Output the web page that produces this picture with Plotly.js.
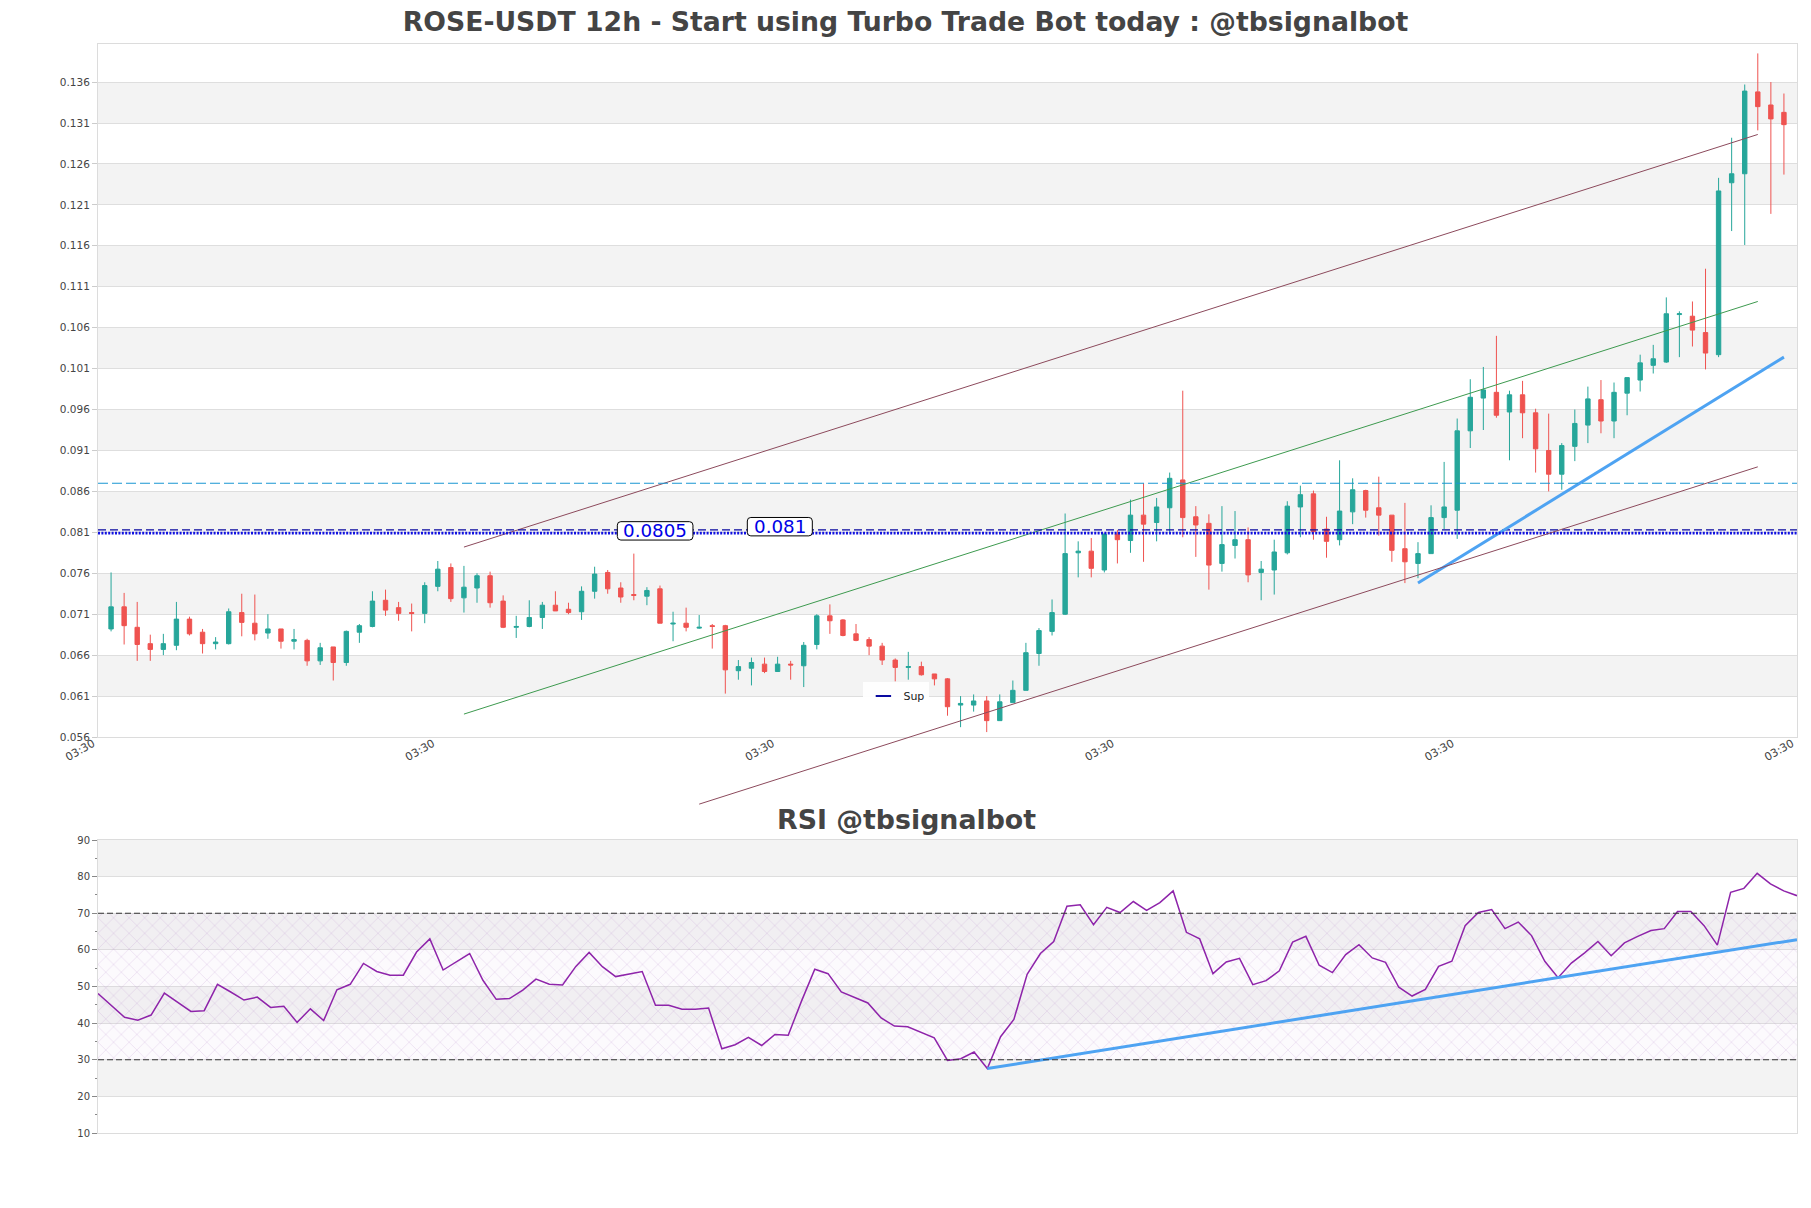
<!DOCTYPE html>
<html><head><meta charset="utf-8">
<script src="https://cdn.plot.ly/plotly-3.0.1.min.js"></script>
<style>html,body{margin:0;padding:0;background:#fff}#chart{width:1811px;height:1208px}</style>
</head><body><div id="chart"></div>
<script>
// ---------- DATA ----------
const open = [.0692,.0719,.0694,.0674,.0667,.0672,.0704,.0688,.0674,.0674,
.0712,.0699,.0687,.0692,.0677,.0678,.0653,.0670,.0651,.0688,
.0695,.0727,.0718,.0712,.0711,.0744,.0767,.0730,.0742,.0757,
.0726,.0694,.0695,.0706,.0721,.0716,.0713,.0738,.0761,.0742,
.0734,.0732,.0741,.0698,.0699,.0693,.0696,.0696,.0641,.0644,
.0649,.0640,.0649,.0647,.0673,.0708,.0703,.0686,.0679,.0671,
.0654,.0645,.0646,.0637,.0631,.0599,.0599,.0604,.0580,.0602,
.0617,.0662,.0689,.0710,.0785,.0787,.0764,.0808,.0800,.0831,
.0822,.0840,.0874,.0829,.0821,.0772,.0794,.0801,.0761,.0764,
.0785,.0841,.0857,.0814,.0801,.0835,.0861,.0840,.0831,.0790,
.0772,.0784,.0828,.0837,.0934,.0974,.0981,.0957,.0978,.0956,
.0910,.0881,.0915,.0941,.0972,.0946,.0980,.0996,.1014,.1018,
.1076,.1074,.1054,.1027,.1237,.1248,.1348,.1332,.1323];
const high = [.0761,.0736,.0725,.0685,.0686,.0725,.0707,.0692,.0682,.0717,
.0735,.0734,.0710,.0692,.0692,.0680,.0675,.0670,.0690,.0698,
.0738,.0740,.0725,.0723,.0749,.0775,.0772,.0769,.0760,.0762,
.0733,.0708,.0727,.0725,.0738,.0724,.0744,.0768,.0764,.0749,
.0784,.0743,.0745,.0713,.0718,.0709,.0698,.0697,.0654,.0657,
.0657,.0658,.0653,.0676,.0710,.0722,.0704,.0698,.0682,.0675,
.0656,.0664,.0652,.0637,.0632,.0610,.0612,.0610,.0612,.0629,
.0675,.0693,.0728,.0833,.0799,.0803,.0809,.0813,.0850,.0870,
.0852,.0883,.0983,.0842,.0832,.0842,.0836,.0816,.0775,.0801,
.0848,.0867,.0861,.0829,.0898,.0876,.0862,.0878,.0831,.0846,
.0798,.0843,.0896,.0949,.0997,.1012,.1050,.0983,.0995,.0961,
.0955,.0919,.0960,.0988,.0996,.0993,.0999,.1027,.1039,.1097,
.1080,.1092,.1132,.1243,.1292,.1357,.1395,.1360,.1346];
const low = [.0689,.0673,.0653,.0653,.0660,.0666,.0684,.0662,.0667,.0673,
.0683,.0678,.0680,.0668,.0667,.0647,.0648,.0629,.0647,.0675,
.0694,.0708,.0702,.0689,.0699,.0738,.0725,.0712,.0724,.0718,
.0693,.0681,.0694,.0692,.0714,.0710,.0703,.0729,.0735,.0724,
.0727,.0721,.0699,.0677,.0689,.0692,.0668,.0613,.0630,.0623,
.0638,.0640,.0630,.0621,.0667,.0686,.0683,.0677,.0660,.0648,
.0628,.0630,.0635,.0623,.0586,.0572,.0591,.0566,.0580,.0602,
.0617,.0647,.0684,.0709,.0755,.0755,.0761,.0772,.0785,.0774,
.0799,.0809,.0804,.0780,.0740,.0762,.0778,.0749,.0727,.0734,
.0783,.0804,.0801,.0779,.0794,.0820,.0828,.0806,.0774,.0748,
.0754,.0784,.0814,.0802,.0913,.0935,.0950,.0898,.0925,.0883,
.0860,.0862,.0897,.0919,.0931,.0925,.0953,.0982,.1004,.1017,
.1024,.1037,.1009,.1024,.1178,.1161,.1301,.1199,.1247];
const close = [.0719,.0696,.0673,.0667,.0674,.0704,.0686,.0674,.0676,.0713,
.0700,.0686,.0692,.0677,.0679,.0653,.0669,.0651,.0689,.0696,
.0726,.0715,.0711,.0711,.0745,.0765,.0729,.0743,.0757,.0724,
.0694,.0695,.0706,.0721,.0714,.0712,.0738,.0759,.0741,.0731,
.0733,.0739,.0699,.0699,.0694,.0694,.0695,.0642,.0646,.0651,
.0640,.0649,.0648,.0672,.0708,.0702,.0684,.0678,.0671,.0654,
.0645,.0646,.0636,.0631,.0597,.0601,.0604,.0580,.0603,.0617,
.0663,.0690,.0712,.0784,.0787,.0766,.0808,.0801,.0831,.0820,
.0841,.0876,.0828,.0819,.0770,.0795,.0801,.0758,.0765,.0786,
.0842,.0856,.0811,.0799,.0836,.0862,.0837,.0831,.0788,.0774,
.0784,.0828,.0841,.0934,.0975,.0984,.0953,.0978,.0956,.0912,
.0881,.0916,.0943,.0973,.0946,.0981,.0999,.1017,.1022,.1077,
.1077,.1057,.1029,.1227,.1248,.1349,.1330,.1315,.1308];
const rsi = [48.1,44.8,41.6,40.8,42.2,48.2,45.6,43.2,43.4,50.6,
48.5,46.3,47.1,44.3,44.6,40.2,43.9,40.7,49.1,50.6,
56.3,54.1,53.1,53.1,59.4,63.0,54.5,56.8,59.0,51.7,
46.5,46.7,49.0,52.0,50.6,50.4,55.5,59.3,55.4,52.7,
53.3,54.1,44.9,44.9,43.8,43.8,44.1,33.0,34.1,36.1,
33.9,36.9,36.7,46.0,54.7,53.5,48.5,47.1,45.5,41.4,
39.2,39.0,37.4,36.0,29.8,30.3,32.1,27.6,36.3,41.0,
53.3,59.0,62.3,71.9,72.3,66.9,71.6,70.2,73.2,70.8,
72.9,76.1,64.8,63.0,53.5,56.7,57.7,50.5,51.6,54.3,
62.1,63.7,55.8,53.8,58.7,61.4,57.8,56.6,49.8,47.4,
49.2,55.5,56.9,66.6,70.2,71.0,65.8,67.6,63.9,56.9,
52.4,56.4,59.2,62.3,58.4,61.9,63.7,65.3,65.8,70.5,
70.5,66.6,61.3,75.7,76.8,80.9,78.0,76.1,74.8];

const priceTicks = [0.056,0.061,0.066,0.071,0.076,0.081,0.086,0.091,0.096,0.101,0.106,0.111,0.116,0.121,0.126,0.131,0.136];
const rsiTicks = [10,20,30,40,50,60,70,80,90];
const xTickVals = [0,26,52,78,104,130];
const xTickText = ['03:30','03:30','03:30','03:30','03:30','03:30'];

// trend / channel lines (x = candle index, y = price)
const channelUpper = {x:[28,127], y:[0.0792,0.1296]};
const channelMid   = {x:[28,127], y:[0.0588,0.1092]};
const channelLower = {x:[46,127], y:[0.0478,0.0890]};
const priceTrend   = {x:[101,129], y:[0.0748,0.1024]};
const rsiTrend     = {x:[68,129], y:[27.6,62.8]};

// horizontal levels
const resistanceLevel = 0.0870;
const supLevel = 0.0813;
const supDotLevel = 0.0809;
const rsiLevels = [70, 30];

// level labels
const labelText = ['0.0805','0.081'];
const labelX = [42.63, 52.17];
const labelY = [0.08118, 0.08169];

// ---------- FIGURE ----------
const idx = open.map((_, i) => i + 1);
const xRange = [0, 130];
const rsiXRange = [1, 129];
const priceRange = [0.056, 0.14065];
const rsiRange = [10, 90];

const FONT = 'DejaVu Sans';
const GREEN = '#26a69a', RED = '#ef5350', NAVY = '#0a0aa0';

const traces = [];
traces.push({
  type:'candlestick', x: idx, open, high, low, close, xaxis:'x', yaxis:'y',
  increasing:{line:{color:GREEN, width:1}, fillcolor:GREEN},
  decreasing:{line:{color:RED, width:1}, fillcolor:RED},
  whiskerwidth:0, hoverinfo:'skip', showlegend:false
});
traces.push({type:'scatter', mode:'lines', x:channelUpper.x, y:channelUpper.y, xaxis:'x', yaxis:'y',
  line:{color:'#8c4a5c', width:1}, hoverinfo:'skip', showlegend:false});
traces.push({type:'scatter', mode:'lines', x:channelMid.x, y:channelMid.y, xaxis:'x', yaxis:'y',
  line:{color:'#3d9a4f', width:1}, hoverinfo:'skip', showlegend:false});
traces.push({type:'scatter', mode:'lines', x:xRange, y:[supLevel, supLevel], xaxis:'x', yaxis:'y',
  line:{color:NAVY, width:1.2, dash:'8px,4px'}, hoverinfo:'skip', showlegend:false});
// legend entry for "Sup" (short solid dash symbol)
traces.push({type:'scatter', mode:'markers', x:[null], y:[null], xaxis:'x', yaxis:'y', name:'Sup',
  marker:{symbol:'line-ew-open', size:11, color:NAVY, line:{color:NAVY, width:2.2}}, hoverinfo:'skip', showlegend:true});
traces.push({type:'scatter', mode:'lines', x:priceTrend.x, y:priceTrend.y, xaxis:'x', yaxis:'y',
  line:{color:'#4ea3f2', width:3}, hoverinfo:'skip', showlegend:false});

// RSI hatch band
traces.push({type:'scatter', mode:'lines', x:rsiXRange, y:[rsiLevels[1], rsiLevels[1]], xaxis:'x2', yaxis:'y2',
  line:{width:0}, hoverinfo:'skip', showlegend:false});
traces.push({type:'scatter', mode:'lines', x:rsiXRange, y:[rsiLevels[0], rsiLevels[0]], xaxis:'x2', yaxis:'y2',
  line:{width:0}, fill:'tonexty', fillcolor:'rgba(0,0,0,0)',
  fillpattern:{shape:'x', fgcolor:'rgba(170,115,195,0.38)', bgcolor:'rgba(200,170,215,0.06)', size:11, solidity:0.08},
  hoverinfo:'skip', showlegend:false});
traces.push({type:'scatter', mode:'lines', x:idx, y:rsi, xaxis:'x2', yaxis:'y2',
  line:{color:'#8e24aa', width:1.5}, hoverinfo:'skip', showlegend:false});
traces.push({type:'scatter', mode:'lines', x:rsiTrend.x, y:rsiTrend.y, xaxis:'x2', yaxis:'y2',
  line:{color:'#4ea3f2', width:3}, hoverinfo:'skip', showlegend:false});

const shapes = [];
for (let i = 1; i + 1 < priceTicks.length; i += 2) {
  shapes.push({type:'rect', xref:'x domain', x0:0, x1:1, yref:'y', y0:priceTicks[i], y1:priceTicks[i+1],
    fillcolor:'#f3f3f3', line:{width:0}, layer:'below'});
}
for (let i = 1; i + 1 < rsiTicks.length; i += 2) {
  shapes.push({type:'rect', xref:'x2 domain', x0:0, x1:1, yref:'y2', y0:rsiTicks[i], y1:rsiTicks[i+1],
    fillcolor:'#f3f3f3', line:{width:0}, layer:'below'});
}
shapes.push({type:'line', xref:'x domain', x0:0, x1:1, yref:'y', y0:resistanceLevel, y1:resistanceLevel,
  line:{color:'#1a96d2', width:1.1, dash:'10px,4px'}});
shapes.push({type:'line', xref:'x domain', x0:0, x1:1, yref:'y', y0:supDotLevel, y1:supDotLevel,
  line:{color:'#1010e0', width:2.6, dash:'2px,1.4px'}});
rsiLevels.forEach(v => shapes.push({type:'line', xref:'x2 domain', x0:0, x1:1, yref:'y2', y0:v, y1:v,
  line:{color:'#333', width:1.2, dash:'6px,3px'}}));
// lower channel line extends past the plot bottom: place it through the axis ranges in domain units
const fx = v => (v - xRange[0]) / (xRange[1] - xRange[0]);
const fy = v => (v - priceRange[0]) / (priceRange[1] - priceRange[0]);
shapes.push({type:'line', xref:'x domain', yref:'y domain',
  x0:fx(channelLower.x[0]), y0:fy(channelLower.y[0]), x1:fx(channelLower.x[1]), y1:fy(channelLower.y[1]),
  line:{color:'#8c4a5c', width:1}});

// rounded label boxes (pixel-sized, anchored at the label values)
function roundRect(w, h, r) {
  return `M ${-w+r},${-h} L ${w-r},${-h} Q ${w},${-h} ${w},${-h+r} L ${w},${h-r} Q ${w},${h} ${w-r},${h} ` +
         `L ${-w+r},${h} Q ${-w},${h} ${-w},${h-r} L ${-w},${-h+r} Q ${-w},${-h} ${-w+r},${-h} Z`;
}
const labelHalfW = labelText.map(t => t.length * 5.3 + 6);
labelText.forEach((t, i) => shapes.push({type:'path', xref:'x', yref:'y',
  xsizemode:'pixel', ysizemode:'pixel', xanchor:labelX[i], yanchor:labelY[i],
  path: roundRect(labelHalfW[i], 9.2, 3.5), fillcolor:'#ffffff', line:{color:'#000', width:1}, layer:'above'}));

const annotations = labelText.map((t, i) => ({
  xref:'x', yref:'y', x:labelX[i], y:labelY[i], text:t, showarrow:false, xanchor:'center', yanchor:'middle',
  font:{family:FONT, size:18.3, color:'#0000e6'}
}));
annotations.push({xref:'paper', yref:'paper', x:0.4756, y:0.2883, xanchor:'center', yanchor:'middle',
  text:'<b>RSI @tbsignalbot</b>', showarrow:false, font:{family:FONT, size:26.8, color:'#444'}});

const axisCommon = {showline:true, mirror:true, linecolor:'#dcdcdc', linewidth:1, zeroline:false, fixedrange:true};

const layout = {
  width:1811, height:1208,
  margin:{l:98, r:14, t:44, b:75},
  paper_bgcolor:'#fff', plot_bgcolor:'#fff',
  font:{family:FONT, color:'#444'},
  title:{text:'<b>ROSE-USDT 12h - Start using Turbo Trade Bot today : @tbsignalbot</b>',
    font:{family:FONT, size:26.7, color:'#444'}, x:0.5, xref:'container', xanchor:'center',
    y:1 - 22/1208, yref:'container', yanchor:'middle'},
  boxgap:0.52,
  showlegend:true,
  legend:{x:0.4505, y:0.4146, xanchor:'left', yanchor:'top', bgcolor:'rgba(255,255,255,0.92)',
    font:{family:FONT, size:11, color:'#222'}, itemwidth:30},
  xaxis:Object.assign({}, axisCommon, {domain:[0,1], range:xRange, anchor:'y',
    tickmode:'array', tickvals:xTickVals, ticktext:xTickText, tickangle:-30,
    tickfont:{family:FONT, size:11, color:'#444'}, showgrid:false, ticks:'',
    ticklabelshift:-5, ticklabelstandoff:-5,
    rangeslider:{visible:false}}),
  yaxis:Object.assign({}, axisCommon, {domain:[(1133-737)/1089, 1], range:priceRange, anchor:'x',
    tickmode:'array', tickvals:priceTicks, ticktext:priceTicks.map(v => v.toFixed(3)),
    tickfont:{family:FONT, size:10.5, color:'#444'}, showgrid:true, gridcolor:'#dedede', gridwidth:1,
    ticks:'outside', ticklen:5, tickcolor:'#ccc'}),
  xaxis2:Object.assign({}, axisCommon, {domain:[0,1], range:rsiXRange, anchor:'y2',
    showticklabels:false, ticks:'', showgrid:false}),
  yaxis2:Object.assign({}, axisCommon, {domain:[0, (1133-840)/1089], range:rsiRange, anchor:'x2',
    tickmode:'array', tickvals:rsiTicks, tickfont:{family:FONT, size:10, color:'#444'},
    showgrid:true, gridcolor:'#dedede', ticks:'outside', ticklen:5, tickcolor:'#888',
    minor:{dtick:5, tick0:5, ticks:'outside', ticklen:2.5, tickcolor:'#888', showgrid:false}}),
  shapes, annotations,
  hovermode:false
};

Plotly.newPlot('chart', traces, layout, {staticPlot:true, displayModeBar:false});
</script>
</body></html>
